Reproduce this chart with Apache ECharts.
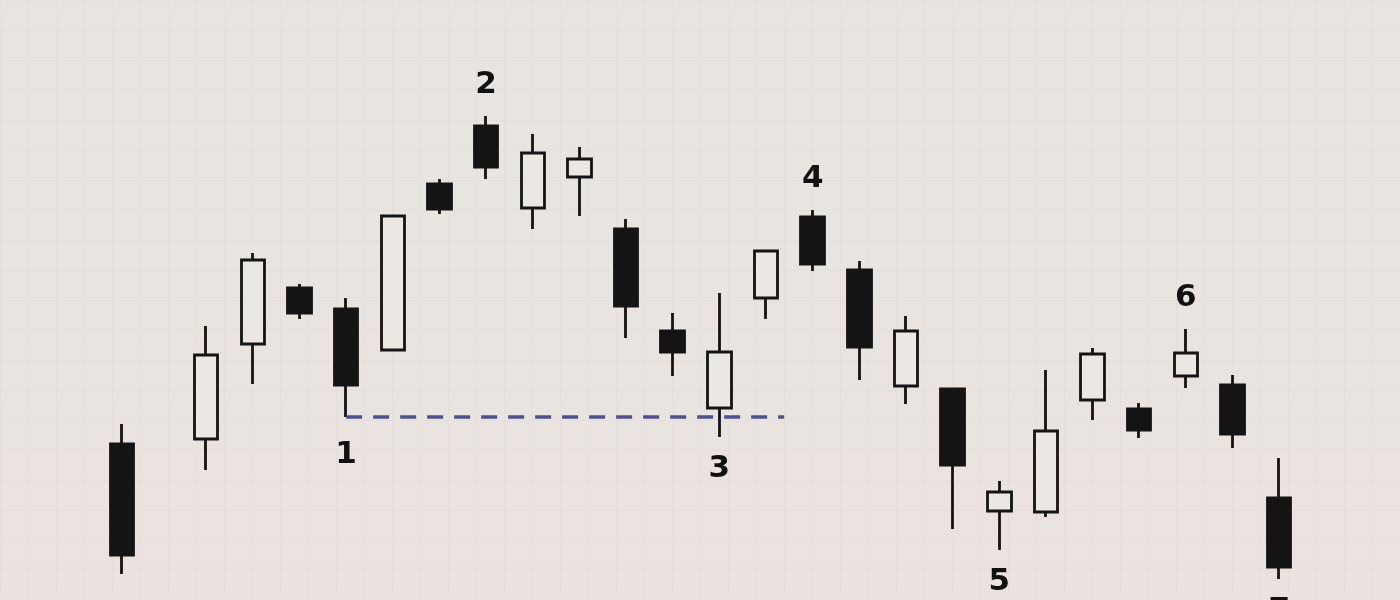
<!DOCTYPE html>
<html>
<head>
<meta charset="utf-8">
<script src="https://cdn.jsdelivr.net/npm/echarts@6/dist/echarts.min.js"></script>
<style>
  html, body { margin: 0; padding: 0; }
  #chart { width: 1400px; height: 600px; }
</style>
</head>
<body>
<div id="chart"></div>
<script>
// Session positions along the time axis (first session sits a bit apart)
var sessions = [0, 1.8, 2.8, 3.8, 4.8, 5.8, 6.8, 7.8, 8.8, 9.8, 10.8, 11.8, 12.8,
                13.8, 14.8, 15.8, 16.8, 17.8, 18.8, 19.8, 20.8, 21.8, 22.8, 23.8, 24.8];
var opens  = [156, 161, 256, 312, 291, 250, 416, 474, 392, 423, 371, 269, 192,
              302, 383, 330, 214, 211, 89, 88, 200, 191, 224, 215, 102];
var closes = [45, 245, 340, 287, 215, 384, 391, 433, 447, 441, 294, 248, 248,
              349, 336, 253, 269, 135, 108, 169, 246, 170, 247, 166, 33];
var lows   = [26, 130, 216, 281, 183, 250, 386, 421, 371, 384, 262, 224, 163,
              281, 329, 220, 196, 71, 50, 83, 180, 162, 212, 152, 21];
var highs  = [176, 274, 347, 316, 302, 384, 421, 484, 466, 453, 381, 287, 307,
              350, 390, 339, 284, 212, 119, 230, 252, 197, 271, 225, 142];

// Swing-point annotations: text, candle number (1-based), side of candle
var pivotTexts   = ['1', '2', '3', '4', '5', '6', '7'];
var pivotCandles = [5, 8, 13, 15, 19, 23, 25];
var pivotSides   = ['low', 'high', 'low', 'high', 'low', 'high', 'low'];

// Support line: from the low of candle 5 to this session position
var supportFrom = 5;
var supportToSession = 14.19;

var candleData = sessions.map(function (x, i) {
  return [x, opens[i], closes[i], lows[i], highs[i]];
});

var pivotData = pivotTexts.map(function (t, i) {
  var idx = pivotCandles[i] - 1;
  var isHigh = pivotSides[i] === 'high';
  return {
    value: [sessions[idx], isHigh ? highs[idx] : lows[idx]],
    name: t,
    label: {
      position: isHigh ? 'top' : 'bottom',
      distance: (t === '1') ? 22 : 16
    }
  };
});

var chart = echarts.init(document.getElementById('chart'));
chart.setOption({
  animation: false,
  backgroundColor: {
    type: 'linear', x: 0, y: 0, x2: 0, y2: 1,
    colorStops: [
      { offset: 0, color: '#e8e5e1' },
      { offset: 0.55, color: '#e9e4e0' },
      { offset: 1, color: '#ebe2df' }
    ]
  },
  grid: [
    { left: 0, right: 0, top: 0, bottom: 0 },
    { left: 0, right: 0, top: 0, bottom: 0 }
  ],
  xAxis: [
    {
      type: 'value', gridIndex: 0, min: -2.62, max: 27.39,
      show: false, splitLine: { show: false }
    },
    {
      type: 'value', gridIndex: 1, min: 0, max: 1400, interval: 28,
      axisLine: { show: false }, axisTick: { show: false }, axisLabel: { show: false },
      splitLine: { show: true, lineStyle: { color: 'rgba(150,130,120,0.05)', width: 1 } }
    }
  ],
  yAxis: [
    {
      type: 'value', gridIndex: 0, min: 0, max: 600,
      show: false, splitLine: { show: false }
    },
    {
      type: 'value', gridIndex: 1, min: 0, max: 600, interval: 30,
      axisLine: { show: false }, axisTick: { show: false }, axisLabel: { show: false },
      splitLine: { show: true, lineStyle: { color: 'rgba(150,130,120,0.05)', width: 1 } }
    }
  ],
  series: [
    {
      type: 'candlestick',
      xAxisIndex: 0, yAxisIndex: 0,
      data: candleData,
      barWidth: 24,
      z: 3,
      itemStyle: {
        color: '#ebe7e2',
        color0: '#141414',
        borderColor: '#141414',
        borderColor0: '#141414',
        borderWidth: 2.8
      },
      emphasis: { disabled: true },
      markLine: {
        silent: true,
        symbol: ['none', 'none'],
        label: { show: false },
        lineStyle: { type: [16, 11], color: '#4b5291', width: 3.5 },
        data: [[
          { coord: [sessions[supportFrom - 1], lows[supportFrom - 1]] },
          { coord: [supportToSession, lows[supportFrom - 1]] }
        ]]
      }
    },
    {
      type: 'scatter',
      xAxisIndex: 0, yAxisIndex: 0,
      symbolSize: 0,
      silent: true,
      z: 4,
      itemStyle: { opacity: 1 },
      data: pivotData,
      label: {
        show: true,
        opacity: 1,
        formatter: function (p) { return p.name; },
        fontFamily: 'DejaVu Sans',
        fontWeight: 'bold',
        fontSize: 31,
        lineHeight: 31,
        color: '#111111'
      }
    }
  ]
});
</script>
</body>
</html>
